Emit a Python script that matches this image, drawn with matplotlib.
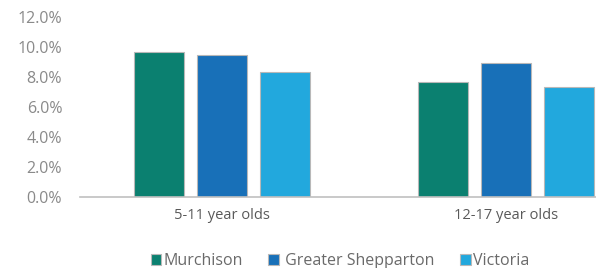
import matplotlib
matplotlib.use("Agg")
import matplotlib.pyplot as plt
import numpy as np

categories = ["5-11 year olds", "12-17 year olds"]
series_names = ["Murchison", " Greater Shepparton", "Victoria"]
murchison = [9.65, 7.7]
greater_shepparton = [9.5, 8.95]
victoria = [8.35, 7.35]
yticks = [0, 2, 4, 6, 8, 10, 12]

colors = ["#0B8070", "#1870B8", "#22A8DD"]
values = [murchison, greater_shepparton, victoria]

plt.rcParams['font.family'] = ['Open Sans', 'DejaVu Sans']
fig = plt.figure(figsize=(5.96, 2.68), dpi=100)
W, H = 596, 268
left_px, right_px = 79.5, 648
top_px, bot_px = 17, 197
ax = fig.add_axes([left_px / W, 1 - bot_px / H, (right_px - left_px) / W, (bot_px - top_px) / H])

x = np.arange(len(categories))
width = 0.176
step = 0.222
for i, (name, vals, c) in enumerate(zip(series_names, values, colors)):
    ax.bar(x + (i - 1) * step, vals, width, color=c, edgecolor="#b8b8b8", linewidth=0.8, label=name, zorder=2)

ax.set_xlim(-0.5, 1.5)
ax.set_ylim(0, 12)
ax.set_yticks(yticks)
ax.set_yticklabels([f"{v:.1f}%" for v in yticks], color="#8a8a8a", fontsize=11.5)
ax.set_xticks(x)
ax.set_xticklabels(categories, color="#595959", fontsize=10.5)
ax.tick_params(axis="both", length=0)
ax.tick_params(axis="y", pad=12.5)
ax.tick_params(axis="x", pad=8)
for s in ["top", "right", "left"]:
    ax.spines[s].set_visible(False)
ax.spines["bottom"].set_color("#c0c0c0")
ax.spines["bottom"].set_linewidth(1.2)

leg = fig.legend(loc="center", bbox_to_anchor=(340 / W, 1 - 261 / H), ncol=3, frameon=False,
                 fontsize=11.5, handlelength=0.65, handleheight=0.65, handletextpad=0.15, columnspacing=1.6)
for t in leg.get_texts():
    t.set_color("#6a6a6a")

fig.savefig("out.png", dpi=100)
